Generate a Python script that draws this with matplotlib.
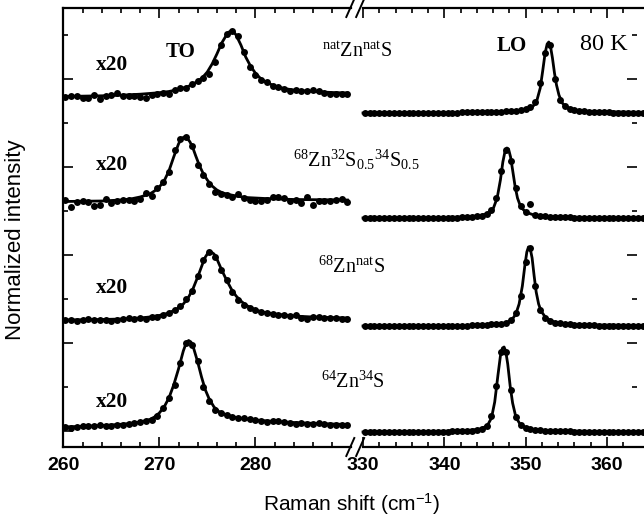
import matplotlib
matplotlib.use("Agg")
import matplotlib.pyplot as plt
from matplotlib.lines import Line2D

plt.rcParams["font.family"] = ["Liberation Sans", "DejaVu Sans"]
plt.rcParams["mathtext.fontset"] = "custom"
plt.rcParams["mathtext.rm"] = "Liberation Serif"
plt.rcParams["mathtext.it"] = "Liberation Serif:italic"
plt.rcParams["mathtext.bf"] = "Liberation Serif:bold"
plt.rcParams["mathtext.sf"] = "Liberation Sans"

# ---------------- data ----------------
# Raman shift of the measured points (cm^-1)
TO_SHIFT = [260.2, 260.8, 261.4, 262.0, 262.6, 263.2, 263.8, 264.4, 265.0, 265.6,
            266.2, 266.8, 267.4, 268.0, 268.6, 269.2, 269.8, 270.4, 271.0, 271.6,
            272.2, 272.8, 273.4, 274.0, 274.6, 275.2, 275.8, 276.4, 277.0, 277.6,
            278.2, 278.8, 279.4, 280.0, 280.6, 281.2, 281.8, 282.4, 283.0, 283.6,
            284.2, 284.8, 285.4, 286.0, 286.6, 287.2, 287.8, 288.4, 289.0, 289.6]
LO_SHIFT = [330.2, 330.8, 331.4, 332.0, 332.6, 333.2, 333.8, 334.4, 335.0, 335.6,
            336.2, 336.8, 337.4, 338.0, 338.6, 339.2, 339.8, 340.4, 341.0, 341.6,
            342.2, 342.8, 343.4, 344.0, 344.6, 345.2, 345.8, 346.4, 347.0, 347.6,
            348.2, 348.8, 349.4, 350.0, 350.6, 351.2, 351.8, 352.4, 353.0, 353.6,
            354.2, 354.8, 355.4, 356.0, 356.6, 357.2, 357.8, 358.4, 359.0, 359.6,
            360.2, 360.8, 361.4, 362.0, 362.6, 363.2, 363.8, 364.4]

# TO band (x20), intensity above each trace's baseline
TO_NAT = [0, 1, 1, -1, -1, 2, -2, 1, 2, 4, 1, 1, 1, 0, -1, 2, 3, 4, 3, 7,
          9, 9, 13, 16, 19, 23, 35, 52, 63, 66, 61, 45, 30, 22, 17, 15, 11, 10, 8, 6,
          7, 6, 6, 7, 6, 4, 3, 3, 3, 3]
TO_MIX = [2, -5, 0, 1, 0, -4, -3, 3, -1, 1, 2, 2, 1, 3, 9, 6, 14, 20, 30, 52,
          63, 65, 56, 37, 27, 18, 10, 8, 7, 5, 8, 4, 2, 1, 1, 2, 5, 5, 4, 1,
          2, -1, 5, -3, 1, 1, 1, 2, 3, 0]
TO_68 = [0, 0, -1, 0, 1, 0, 0, 0, -1, 0, 1, 2, 1, 2, 1, 3, 3, 5, 7, 10,
         14, 21, 29, 44, 60, 68, 63, 50, 40, 28, 20, 15, 12, 10, 8, 7, 6, 5, 5, 4,
         5, 2, 1, 3, 3, 2, 2, 2, 1, 1]
TO_64 = [-2, -3, -2, -1, -1, -1, 0, -1, -1, 0, 0, 1, 2, 3, 4, 5, 9, 17, 27, 40,
         62, 82, 80, 64, 38, 24, 15, 12, 10, 8, 7, 7, 6, 5, 4, 3, 4, 4, 3, 2,
         1, 2, 1, 1, 2, 1, 0, 0, 0, 0]

# LO band
LO_NAT = [0, 0, 0, 0, 0, 0, 0, 0, 0, 0, 0, 0.5, 0.5, 0.5, 0.5, 0.5, 0.5, 0.5, 0.5, 0.5,
          1, 1, 1, 1, 1, 1, 1, 1.5, 1.5, 2, 2, 2.5, 3, 4, 6, 11, 30, 60, 68, 34,
          13, 7, 4, 3, 2.5, 2, 1.5, 1.5, 1, 1, 1, 0.5, 0.5, 0.5, 0.5, 0.5, 0, 0]
LO_MIX = [0, 0, 0, 0, 0, 0, 0, 0, 0, 0, 0, 0, 0, 0, 0.5, 0.5, 0.5, 0.5, 0.5, 0.5,
          1, 1, 1.5, 2, 2.5, 4, 8, 20, 47, 68, 57, 30, 12, 6, 14, 3, 2.5, 2, 1.5, 1.5,
          1, 1, 1, 0.5, 0.5, 0.5, 0.5, 0.5, 0.5, 0.5, 0, 0, 0, 0, 0, 0, 0, 0]
LO_68 = [0, 0, 0, 0, 0, 0, 0, 0, 0, 0, 0.5, 0.5, 0.5, 0.5, 0.5, 0.5, 0.5, 0.5, 0.5, 0.5,
         0.5, 0.5, 1, 1, 1.5, 1.5, 2, 2, 2.5, 3.5, 6, 13, 30, 64, 78, 40, 16, 8, 5, 3.5,
         3, 2.5, 2, 1.5, 1.5, 1, 1, 1, 0.5, 0.5, 0.5, 0.5, 0.5, 0.5, 0.5, 0.5, 0.5, 0.5]
LO_64 = [0, 0, 0, 0, 0, 0, 0, 0, 0, 0, 0, 0, 0.5, 0.5, 0.5, 0.5, 0.5, 0.5, 1, 1,
         1, 1.5, 1.5, 2, 3, 6, 16, 46, 80, 80, 42, 15, 7, 4, 3, 2.5, 2, 1.5, 1.5, 1,
         1, 1, 1, 0.5, 0.5, 0.5, 0.5, 0.5, 0.5, 0.5, 0.5, 0, 0, 0, 0, 0, 0, 0]

# Lorentzian fit curves (shift, intensity)
TO_NAT_FIT_X = [260, 264, 266, 268, 270, 271, 272, 273, 274, 274.5, 275, 275.5, 276, 276.5,
                277, 277.25, 277.5, 277.75, 278, 278.5, 279, 279.5, 280, 280.5, 281, 282,
                283, 284, 286, 288, 289.6]
TO_NAT_FIT_Y = [0.5, 1.2, 1.8, 2.8, 4.3, 5.5, 7.5, 10.5, 15.5, 19.5, 25, 33, 43, 54,
                62, 65, 66, 65, 62, 52, 40, 31, 24, 19, 15.5, 11,
                8.5, 7, 5.5, 4.5, 4]
TO_MIX_FIT_X = [260, 264, 266, 267, 268, 269, 269.5, 270, 270.5, 271, 271.5, 272, 272.3,
                272.6, 272.9, 273.2, 273.5, 273.8, 274.2, 274.6, 275, 275.5, 276, 276.5,
                277, 278, 279, 281, 284, 289.6]
TO_MIX_FIT_Y = [0.5, 1, 2, 3, 5, 8, 11, 15, 21, 31, 45, 58, 63.5,
                65, 64, 60, 54, 46, 36, 28, 22, 16, 12, 9.5,
                8, 6, 4.5, 3.5, 2.5, 2]
TO_68_FIT_X = [260, 264, 266, 268, 269, 270, 271, 272, 272.5, 273, 273.5, 274, 274.5,
               274.8, 275.1, 275.4, 275.7, 276, 276.5, 277, 277.5, 278, 278.5, 279,
               280, 281, 282, 284, 286, 289.6]
TO_68_FIT_Y = [0, 0.5, 1, 2, 3, 4.5, 7, 12, 16, 22, 31, 43, 56,
               63, 67.5, 68, 66, 61, 50, 40, 31, 24, 19, 15,
               10, 7.5, 6, 4, 3, 2]
TO_64_FIT_X = [260, 263, 265, 267, 268, 269, 269.5, 270, 270.5, 271, 271.5, 272, 272.5,
               272.8, 273.05, 273.3, 273.6, 274, 274.4, 274.8, 275.2, 275.7, 276.2, 277,
               278, 279, 280, 282, 285, 289.6]
TO_64_FIT_Y = [-2, -1, 0, 1.5, 3, 5.5, 8, 12, 18, 27, 40, 56, 74,
               82, 84.5, 83, 76, 63, 48, 35, 26, 18, 13.5, 10,
               7.5, 6, 5, 3.5, 2, 0.5]

LO_NAT_FIT_X = [330, 345, 348, 349.5, 350.5, 351, 351.4, 351.8, 352.1, 352.4, 352.65,
                352.85, 353.05, 353.3, 353.55, 353.8, 354.1, 354.5, 355, 356, 358, 365]
LO_NAT_FIT_Y = [0, 0.8, 1.5, 2.5, 4.5, 7.5, 13, 25, 42, 60, 69,
                71, 67, 55, 40, 28, 18, 10, 6, 3, 1.5, 0.5]
LO_MIX_FIT_X = [330, 340, 343, 344.5, 345.5, 346, 346.5, 346.9, 347.2, 347.45, 347.7,
                347.9, 348.15, 348.4, 348.7, 349, 349.4, 350, 351, 353, 358, 365]
LO_MIX_FIT_Y = [0, 0.5, 1.2, 2.5, 5, 9, 20, 38, 56, 66, 70,
                69, 61, 48, 32, 20, 11, 6, 3, 1.2, 0.5, 0.2]
LO_68_FIT_X = [330, 342, 346, 347.5, 348.3, 348.8, 349.2, 349.6, 349.9, 350.15, 350.35,
               350.55, 350.8, 351.05, 351.3, 351.6, 351.9, 352.5, 353.5, 355, 358, 365]
LO_68_FIT_Y = [0, 0.5, 1.5, 3, 6, 12, 22, 40, 60, 74, 79,
               78, 68, 50, 34, 22, 15, 8, 4, 2, 1, 0.5]
LO_64_FIT_X = [330, 340, 343, 344.5, 345.3, 345.8, 346.2, 346.6, 346.9, 347.15, 347.35,
               347.55, 347.8, 348.1, 348.4, 348.8, 349.3, 350, 351, 353, 358, 365]
LO_64_FIT_Y = [0, 0.8, 1.6, 3, 6.5, 14, 30, 57, 76, 84, 85,
               81, 68, 46, 29, 15, 8, 4.5, 2.5, 1.3, 0.6, 0.3]

# vertical offsets of the stacked traces (top to bottom)
TO_OFFSET = [350, 245, 127, 22]
LO_OFFSET = [334, 229, 121, 15]

SAMPLE_LABELS = [r"$^{\rm nat}{\rm Zn}^{\rm nat}{\rm S}$",
                 r"$^{\rm 68}{\rm Zn}^{\rm 32}{\rm S}_{\rm 0.5}{}^{\rm 34}{\rm S}_{\rm 0.5}$",
                 r"$^{\rm 68}{\rm Zn}^{\rm nat}{\rm S}$",
                 r"$^{\rm 64}{\rm Zn}^{\rm 34}{\rm S}$"]
SAMPLE_LABEL_POS = [(286.9, 390), (283.9, 280), (286.5, 174), (286.8, 59)]
SCALE_LABEL = "x20"
SCALE_LABEL_Y = [382, 282, 159, 45]

TO_XLIM = (260, 290)
LO_XLIM = (330, 363.7)
YLIM = (0, 439)
TO_MAJOR = [260, 270, 280]
TO_MINOR = [262, 264, 266, 268, 272, 274, 276, 278, 282, 284, 286, 288]
LO_MAJOR = [330, 340, 350, 360]
LO_MINOR = [332, 334, 336, 338, 342, 344, 346, 348, 352, 354, 356, 358, 362]
Y_MAJOR = [16, 104, 192, 280, 368]
Y_MINOR = [60, 148, 236, 324, 412]

# ---------------- figure ----------------
W, H = 644, 516
fig = plt.figure(figsize=(W / 100, H / 100), dpi=100)


def rect(x0, y0, x1, y1):
    return [x0 / W, 1 - y1 / H, (x1 - x0) / W, (y1 - y0) / H]


ax_to = fig.add_axes(rect(63.3, 8, 351.3, 447))
ax_lo = fig.add_axes(rect(363, 8, 637, 447))
ax_lo.patch.set_visible(False)

to_dots = [TO_NAT, TO_MIX, TO_68, TO_64]
to_fits = [(TO_NAT_FIT_X, TO_NAT_FIT_Y), (TO_MIX_FIT_X, TO_MIX_FIT_Y),
           (TO_68_FIT_X, TO_68_FIT_Y), (TO_64_FIT_X, TO_64_FIT_Y)]
lo_dots = [LO_NAT, LO_MIX, LO_68, LO_64]
lo_fits = [(LO_NAT_FIT_X, LO_NAT_FIT_Y), (LO_MIX_FIT_X, LO_MIX_FIT_Y),
           (LO_68_FIT_X, LO_68_FIT_Y), (LO_64_FIT_X, LO_64_FIT_Y)]

dot_kw = dict(ls="none", marker="o", ms=5, mew=0, color="black", zorder=3)
line_kw = dict(color="black", lw=2.0, zorder=2)

for vals, (fx, fy), off in zip(to_dots, to_fits, TO_OFFSET):
    ax_to.plot(fx, [v + off for v in fy], **line_kw)
    ax_to.plot(TO_SHIFT, [v + off for v in vals], **dot_kw)

for vals, (fx, fy), off in zip(lo_dots, lo_fits, LO_OFFSET):
    ax_lo.plot(fx, [v + off for v in fy], clip_on=False, **line_kw)
    ax_lo.plot(LO_SHIFT, [v + off for v in vals], clip_on=False, **dot_kw)

for ax, xlim, major, minor in [(ax_to, TO_XLIM, TO_MAJOR, TO_MINOR),
                               (ax_lo, LO_XLIM, LO_MAJOR, LO_MINOR)]:
    ax.set_xlim(*xlim)
    ax.set_ylim(*YLIM)
    ax.set_xticks(major)
    ax.set_xticks(minor, minor=True)
    ax.set_yticks(Y_MAJOR)
    ax.set_yticks(Y_MINOR, minor=True)
    ax.tick_params(which="both", direction="in", top=True, width=1.2, colors="black")
    ax.tick_params(which="major", length=7)
    ax.tick_params(which="minor", length=3.5)
    ax.tick_params(axis="x", pad=7, labelsize=14)
    ax.tick_params(axis="y", labelleft=False, labelright=False)
    for lab in ax.get_xticklabels():
        lab.set_fontweight("bold")
    for sp in ax.spines.values():
        sp.set_linewidth(1.6)

ax_to.spines["right"].set_visible(False)
ax_to.tick_params(axis="y", which="both", left=True, right=False)
ax_lo.spines["left"].set_visible(False)
ax_lo.spines["right"].set_visible(False)
ax_lo.tick_params(axis="y", which="both", left=False, right=True)
ax_lo.spines["top"].set_bounds(330, 365)
ax_lo.spines["bottom"].set_bounds(330, 365)

# axis break marks
x_gap0 = ax_to.get_position().x1 * W
x_gap1 = ax_lo.get_position().x0 * W
for cy in (8, 447):
    for cx in (x_gap0 - 1, (x_gap0 + x_gap1) / 2 + 3):
        xs = [(cx - 4) / W, (cx + 4) / W]
        ys = [1 - (cy + 9) / H, 1 - (cy - 9) / H]
        fig.add_artist(Line2D(xs, ys, transform=fig.transFigure, color="black", lw=1.4))

# annotations
serif = "Liberation Serif"
for y in SCALE_LABEL_Y:
    ax_to.text(265.1, y, SCALE_LABEL, family=serif, fontweight="bold", fontsize=15.5,
               ha="center", va="center", zorder=5)
ax_to.text(272.2, 395, "TO", family=serif, fontweight="bold", fontsize=15,
           ha="center", va="center", zorder=5)
for label, (x, y) in zip(SAMPLE_LABELS, SAMPLE_LABEL_POS):
    ax_to.text(x, y, label, fontsize=14.5, ha="left", va="baseline", zorder=5)
ax_lo.text(348.3, 401, "LO", family=serif, fontweight="bold", fontsize=15,
           ha="center", va="center")
ax_lo.text(359.6, 403, "80 K", family=serif, fontsize=17.5, ha="center", va="center")

fig.text(351 / W, 1 - 504 / H, r"Raman shift (cm$^{\mathsf{-1}}$)", fontsize=15,
         ha="center", va="center")
fig.text(16 / W, 1 - 240 / H, "Normalized intensity", fontsize=16, rotation=90,
         ha="center", va="center")

fig.savefig("out.png", dpi=100)
